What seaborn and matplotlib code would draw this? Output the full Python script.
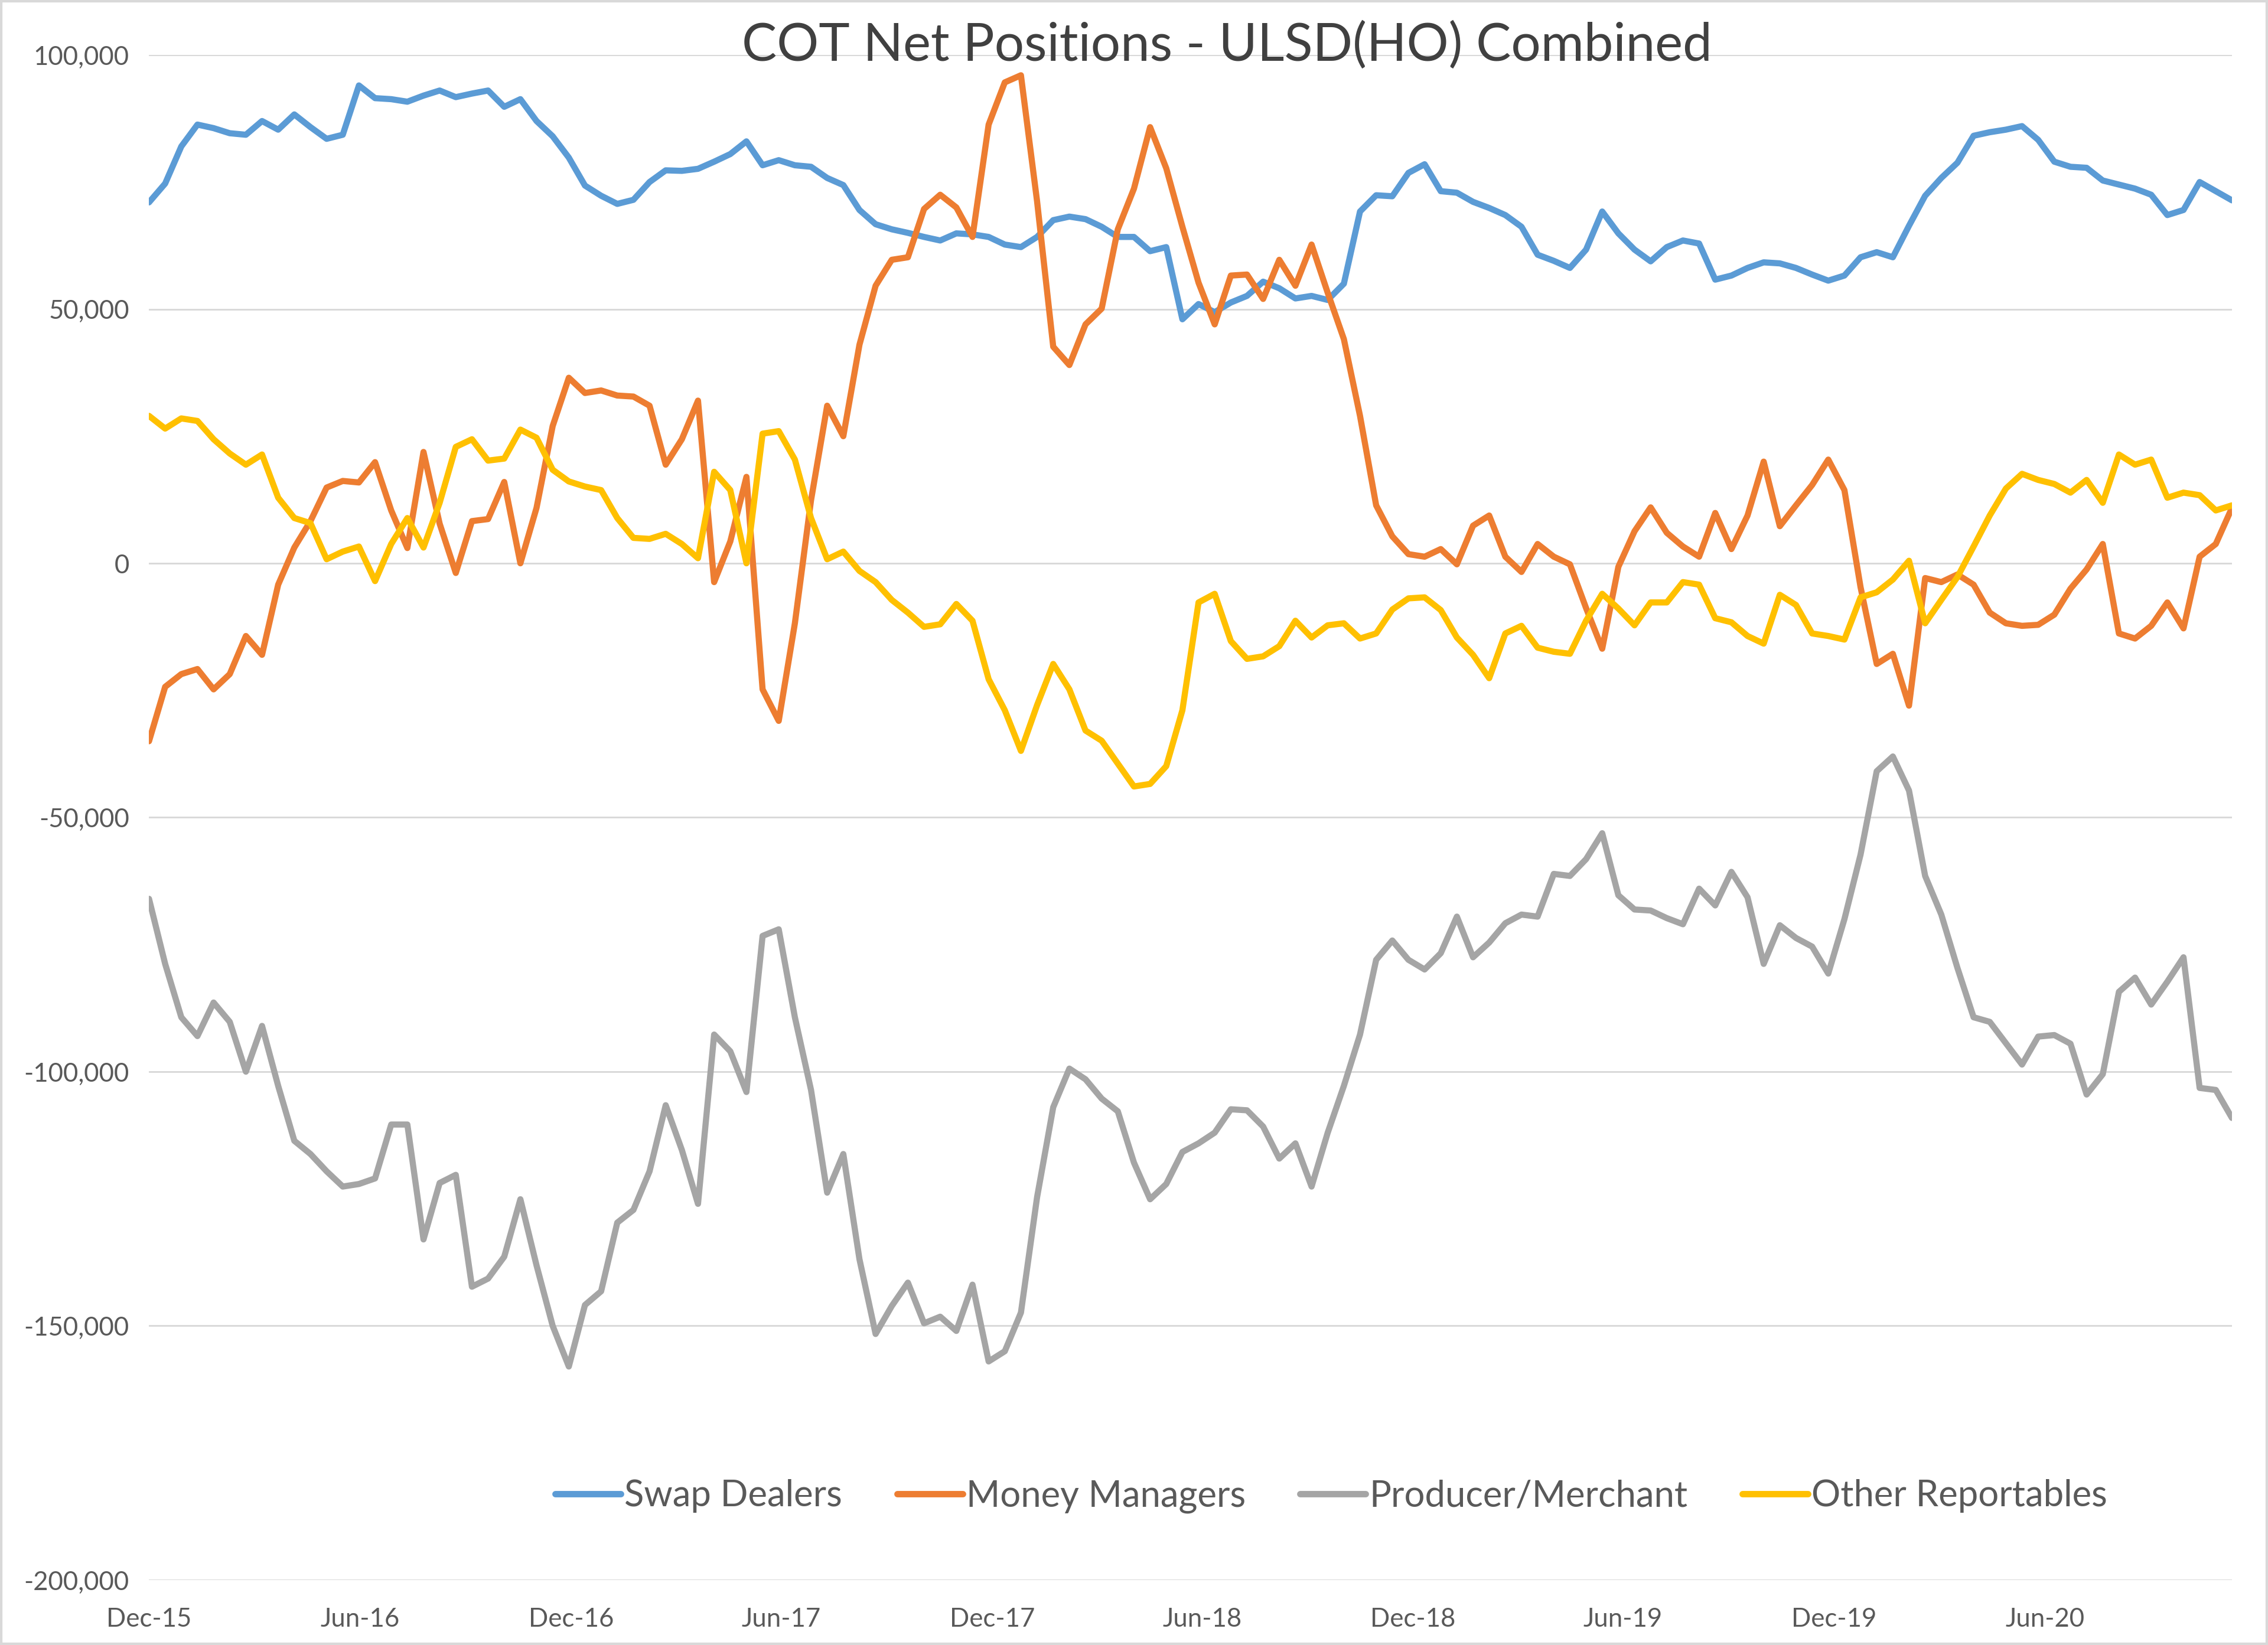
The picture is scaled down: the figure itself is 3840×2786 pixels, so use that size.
import numpy as np
import pandas as pd
import seaborn as sns
import matplotlib.pyplot as plt
import matplotlib.dates as mdates
from matplotlib.ticker import FuncFormatter
from matplotlib.lines import Line2D
from matplotlib.patches import Rectangle

# biweekly COT report dates
dates = pd.date_range("2015-12-01", periods=130, freq="14D")

# net positions, thousands of contracts
swap_dealers = [
    71, 74.7, 82, 86.3, 85.6, 84.6, 84.3, 87, 85.3, 88.3,
    85.8, 83.5, 84.3, 94, 91.5, 91.3, 90.8, 92, 93, 91.7,
    92.4, 93, 89.8, 91.3, 87, 84, 79.8, 74.3, 72.3, 70.7,
    71.5, 75, 77.3, 77.2, 77.6, 79, 80.5, 83, 78.3, 79.3,
    78.3, 78, 75.8, 74.4, 69.5, 66.7, 65.7, 65, 64.2, 63.5,
    64.9, 64.7, 64.2, 62.7, 62.2, 64.2, 67.5, 68.2, 67.7, 66.2,
    64.2, 64.2, 61.4, 62.2, 48, 51, 49.4, 51.3, 52.6, 55.4,
    54.1, 52.1, 52.6, 51.8, 55, 69.2, 72.4, 72.2, 76.8, 78.5,
    73.2, 72.9, 71.1, 69.9, 68.5, 66.2, 60.7, 59.5, 58.1, 61.7,
    69.2, 64.9, 61.7, 59.4, 62.2, 63.5, 62.9, 55.8, 56.6, 58.1,
    59.2, 59, 58.1, 56.8, 55.6, 56.6, 60.2, 61.2, 60.2, 66.4,
    72.3, 75.8, 78.8, 84.1, 84.8, 85.3, 86, 83.3, 79, 78,
    77.8, 75.3, 74.5, 73.7, 72.5, 68.5, 69.5, 75, 73.2, 71.4,
]
money_managers = [
    -35, -24.3, -21.8, -20.8, -24.8, -21.8, -14.3, -18, -4.2, 3.1,
    8.3, 14.9, 16.2, 15.9, 19.9, 10.4, 3, 21.9, 7.8, -1.9,
    8.3, 8.7, 16, 0, 10.9, 27, 36.5, 33.5, 34, 33,
    32.8, 31, 19.4, 24.4, 32, -3.7, 4.3, 17, -24.8, -31,
    -11.8, 12.4, 31, 25, 43, 54.6, 59.7, 60.2, 69.7, 72.5,
    70, 64.2, 86.3, 94.6, 96, 71.2, 42.6, 39, 47, 50.1,
    65.7, 73.7, 85.8, 77.7, 66.2, 55.2, 47, 56.6, 56.8, 52,
    59.7, 54.6, 62.7, 53.2, 44.1, 29, 11.4, 5.3, 1.8, 1.3,
    2.8, -0.2, 7.4, 9.4, 1.3, -1.7, 3.8, 1.3, -0.2, -8.8,
    -16.8, -0.7, 6.3, 11, 6, 3.3, 1.3, 9.9, 2.8, 9.4,
    20, 7.3, 11.4, 15.4, 20.4, 14.4, -4.7, -19.8, -17.8, -28,
    -2.9, -3.7, -2.2, -4.2, -9.7, -11.8, -12.3, -12.1, -10.1, -5,
    -1.2, 3.8, -13.8, -14.8, -12.3, -7.7, -12.8, 1.3, 3.8, 10.9,
]
producer_merchant = [
    -66, -78.8, -89.3, -93, -86.4, -90.2, -100, -91, -102.8, -113.6,
    -116.2, -119.6, -122.6, -122.1, -121, -110.4, -110.4, -133, -121.9, -120.3,
    -142.3, -140.7, -136.4, -125.1, -138.1, -150, -158, -145.9, -143.2, -129.7,
    -127.2, -119.6, -106.6, -115.4, -126, -92.7, -96, -104, -73.3, -72,
    -89.3, -103.6, -123.8, -116.2, -136.9, -151.6, -146.1, -141.5, -149.5, -148.2,
    -151, -141.9, -157, -155, -147.4, -124.7, -107, -99.4, -101.5, -105.3,
    -107.8, -117.9, -125.1, -122.1, -115.8, -114.1, -112, -107.4, -107.6, -110.8,
    -117.1, -114.1, -122.6, -112, -102.8, -92.7, -78, -74.2, -78, -79.9,
    -76.7, -69.5, -77.5, -74.6, -70.8, -69.1, -69.5, -61.1, -61.5, -58.2,
    -53.1, -65.3, -68.1, -68.3, -69.8, -71, -64, -67.3, -60.7, -65.7,
    -78.8, -71.2, -73.7, -75.4, -80.7, -70, -57.3, -40.9, -38, -44.7,
    -61.5, -69.1, -79.6, -89.3, -90.2, -94.4, -98.6, -93.1, -92.8, -94.5,
    -104.5, -100.5, -84.3, -81.5, -86.8, -82.3, -77.5, -103.2, -103.6, -109.1,
]
other_reportables = [
    29, 26.5, 28.5, 28, 24.4, 21.6, 19.4, 21.4, 12.9, 8.9,
    7.9, 0.8, 2.3, 3.3, -3.5, 3.8, 8.9, 3.1, 11.9, 22.9,
    24.4, 20.2, 20.6, 26.3, 24.7, 18.4, 16.1, 15.1, 14.4, 8.9,
    5, 4.8, 5.8, 3.8, 1, 18, 14.4, 0, 25.5, 26,
    20.4, 8.9, 0.8, 2.3, -1.5, -3.7, -7.2, -9.7, -12.5, -12,
    -8, -11.3, -22.8, -28.9, -36.9, -27.9, -19.8, -24.8, -32.9, -34.9,
    -39.4, -43.9, -43.4, -39.9, -28.9, -7.7, -6, -15.3, -18.8, -18.3,
    -16.3, -11.3, -14.6, -12.2, -11.8, -14.8, -13.8, -9.1, -6.9, -6.7,
    -9.2, -14.6, -18, -22.6, -13.8, -12.3, -16.6, -17.4, -17.8, -11.3,
    -6, -8.9, -12.2, -7.7, -7.7, -3.7, -4.2, -10.8, -11.6, -14.3,
    -15.8, -6.2, -8.2, -13.8, -14.3, -15, -6.7, -5.7, -3.2, 0.5,
    -11.8, -7.2, -2.7, 3.3, 9.4, 14.7, 17.6, 16.4, 15.6, 13.9,
    16.4, 11.9, 21.4, 19.4, 20.4, 12.9, 13.9, 13.4, 10.4, 11.4,
]

series_names = ["Swap Dealers", "Money Managers", "Producer/Merchant", "Other Reportables"]
colors = ["#5B9BD5", "#ED7D31", "#A5A5A5", "#FFC000"]

frames = []
for name, vals in zip(series_names, [swap_dealers, money_managers, producer_merchant, other_reportables]):
    frames.append(pd.DataFrame({"date": dates, "net": np.array(vals) * 1000, "series": name}))
df = pd.concat(frames, ignore_index=True)

sns.set_style("white")
plt.rcParams['font.family'] = ['Lato', 'DejaVu Sans']
txt = "#595959"

fig = plt.figure(figsize=(12.8, 9.2867), dpi=300)
ax = fig.add_axes([0.0657, 0.0395, 0.9184, 0.9271])

sns.lineplot(data=df, x="date", y="net", hue="series", hue_order=series_names,
             palette=colors, linewidth=2.5, errorbar=None, legend=False, ax=ax)

ax.set_xlim(dates[0], dates[-1])
ax.set_ylim(-200000, 100000)
ax.set_yticks(np.arange(-200000, 100001, 50000))
ax.yaxis.set_major_formatter(FuncFormatter(lambda v, p: f"{int(v):,}"))
ax.set_xticks(pd.date_range("2015-12-01", "2020-06-01", freq="6MS"))
ax.xaxis.set_major_formatter(mdates.DateFormatter("%b-%y"))
ax.grid(axis="y", color="#D9D9D9", linewidth=0.7)
ax.set_axisbelow(True)
for s in ax.spines.values():
    s.set_visible(False)
ax.tick_params(axis="y", length=0, pad=8, labelsize=10.5, labelcolor=txt)
ax.tick_params(axis="x", length=0, pad=11, labelsize=10.5, labelcolor=txt)
ax.set_xlabel("")
ax.set_ylabel("")

fig.text(0.541, 0.972, "COT Net Positions - ULSD(HO) Combined", ha="center", va="center",
         fontsize=21.3, color="#404040")

handles = [Line2D([], [], color=c, linewidth=2.6) for c in colors]
fig.legend(handles, series_names, loc="center", bbox_to_anchor=(0.587, 0.0905), ncol=4,
           frameon=False, fontsize=14.8, labelcolor=txt, handlelength=1.8,
           handletextpad=0.1, columnspacing=1.5)

fig.patches.append(Rectangle((0, 0), 1, 1, transform=fig.transFigure, fill=False,
                             edgecolor="#D9D9D9", linewidth=2))

fig.savefig("out.png", dpi=300)
